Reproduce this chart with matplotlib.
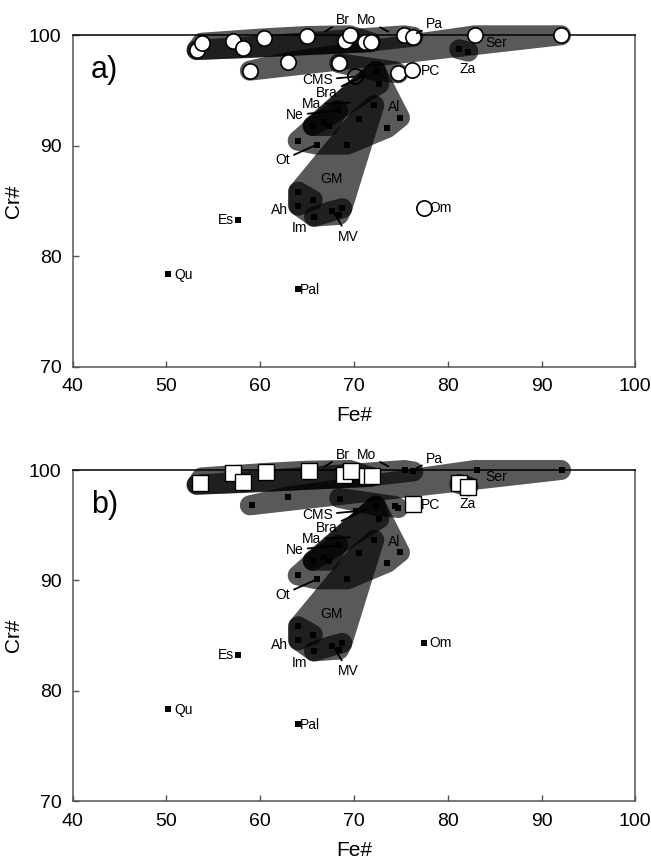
import matplotlib

matplotlib.use("Agg")
import matplotlib.pyplot as plt
import numpy as np
from matplotlib.patches import Polygon

plt.rcParams["font.family"] = ["Liberation Sans", "DejaVu Sans"]

# ---- data (Fe#, Cr#) ----
# panel a: open circles
circ_a_x = [53.22, 53.76, 57.13, 58.13, 60.43, 65.02, 69.04, 69.57, 71.17, 71.81, 75.36, 76.32,
            82.9, 92.07, 58.9, 63.0, 68.43, 74.72, 76.15, 77.46]
circ_a_y = [98.67, 99.33, 99.51, 98.82, 99.73, 99.94, 99.51, 100.0, 99.37, 99.37, 100.0, 99.87,
            100.0, 100.0, 96.8, 97.6, 97.47, 96.56, 96.86, 84.37]
cms_a = (70.1, 96.3)

# black squares shared by both panels
core_x = [68.29, 65.6, 66.83, 67.33, 72.16, 70.5, 74.9, 73.55, 64.0, 66.02, 69.28,
          64.06, 65.6, 64.06, 65.73, 67.62, 68.75, 68.4, 57.63, 50.2, 64.0, 72.35, 72.7]
core_y = [93.24, 91.79, 92.13, 91.79, 93.67, 92.45, 92.54, 91.61, 90.46, 90.1, 90.1,
          85.85, 85.1, 84.58, 83.58, 84.1, 84.34, 83.74, 83.28, 78.37, 77.0, 96.77, 95.59]
black_a_x = [81.23, 82.19]
black_a_y = [98.73, 98.52]

# panel b: open squares
sq_b_x = [53.6, 57.13, 58.13, 60.58, 65.2, 68.97, 69.65, 71.35, 71.95, 81.23, 82.19, 76.26]
sq_b_y = [98.85, 99.7, 98.89, 99.79, 99.94, 99.58, 99.94, 99.46, 99.46, 98.8, 98.49, 96.92]
black_b_x = [75.44, 76.26, 83.08, 92.15, 59.09, 62.99, 68.5, 70.2, 74.37, 74.72, 77.46]
black_b_y = [100.0, 99.94, 100.0, 100.0, 96.86, 97.58, 97.4, 96.31, 96.74, 96.59, 84.37]

# fields (member points of each shaded field)
fields = {
    "Br": [(53.22, 98.67), (53.76, 99.33), (57.13, 99.51), (60.43, 99.73), (65.02, 99.94),
           (69.57, 100.0), (71.81, 99.37)],
    "Mo": [(53.22, 98.67), (58.13, 98.82), (69.04, 99.51), (71.17, 99.37), (75.36, 100.0),
           (76.32, 99.87)],
    "Ser": [(58.9, 96.8), (63.0, 97.6), (82.9, 100.0), (92.07, 100.0)],
    "Za": [(81.23, 98.73), (82.19, 98.52)],
    "Bra": [(68.43, 97.47), (72.35, 96.77), (74.37, 96.74), (74.72, 96.56)],
    "Ot": [(64.0, 90.46), (66.02, 90.1), (69.28, 90.1), (73.55, 91.61), (74.9, 92.54),
           (72.7, 95.59), (72.35, 96.77)],
    "Ma": [(65.6, 91.79), (68.29, 93.24), (72.35, 96.77), (72.7, 95.59)],
    "Ne": [(65.6, 91.79), (66.83, 92.13), (67.33, 91.79), (68.29, 93.24)],
    "GM": [(64.06, 85.85), (64.06, 84.58), (65.73, 83.58), (68.75, 84.34), (72.16, 93.67),
           (70.5, 92.45)],
    "Ah": [(64.06, 85.85), (65.6, 85.1), (64.06, 84.58)],
    "MV": [(65.73, 83.58), (67.62, 84.1), (68.75, 84.34), (68.4, 83.74)],
}

# labels: text, text position, leader end (or None)
labels = [
    ("Br", (68.83, 101.37), (66.9, 100.33)),
    ("Mo", (71.33, 101.38), (73.66, 100.33)),
    ("Pa", (78.58, 100.98), (76.68, 100.18)),
    ("Ser", (85.21, 99.33), None),
    ("Za", (82.12, 96.92), None),
    ("PC", (78.14, 96.81), None),
    ("CMS", (66.09, 95.95), (70.0, 96.25)),
    ("Bra", (67.09, 94.75), (71.3, 96.45)),
    ("Ma", (65.45, 93.76), (69.57, 93.9)),
    ("Ne", (63.67, 92.79), (68.15, 93.15)),
    ("Al", (74.27, 93.48), None),
    ("Ot", (62.39, 88.72), (65.95, 90.07)),
    ("GM", (67.62, 87.0), None),
    ("Ah", (62.0, 84.2), None),
    ("Im", (64.24, 82.53), None),
    ("MV", (69.39, 81.77), (67.8, 84.04)),
    ("Es", (56.31, 83.28), None),
    ("Om", (79.28, 84.37), None),
    ("Qu", (51.8, 78.3), None),
    ("Pal", (65.27, 76.95), None),
]

W, H = 651, 860
AX_L, AX_R = 72.7, 635.3
AX_TOPS = [35.3, 470.0]
AX_H = 331.4
XLIM, YLIM = (40, 100), (70, 100)
SX = (AX_R - AX_L) / (XLIM[1] - XLIM[0])
SY = AX_H / (YLIM[1] - YLIM[0])
RAD = 10.0  # px


def hull(pts):
    pts = sorted(set(pts))
    if len(pts) < 3:
        return pts

    def cross(o, a, b):
        return (a[0] - o[0]) * (b[1] - o[1]) - (a[1] - o[1]) * (b[0] - o[0])

    lower, upper = [], []
    for p in pts:
        while len(lower) >= 2 and cross(lower[-2], lower[-1], p) <= 0:
            lower.pop()
        lower.append(p)
    for p in reversed(pts):
        while len(upper) >= 2 and cross(upper[-2], upper[-1], p) <= 0:
            upper.pop()
        upper.append(p)
    return lower[:-1] + upper[:-1]


def field_polygon(members):
    t = np.linspace(0, 2 * np.pi, 60, endpoint=False)
    pts = []
    for x, y in members:
        for a in t:
            pts.append((x * SX + RAD * np.cos(a), y * SY + RAD * np.sin(a)))
    h = np.array(hull(pts))
    return np.column_stack([h[:, 0] / SX, h[:, 1] / SY])


fig = plt.figure(figsize=(W / 100, H / 100), dpi=100)

for i, top in enumerate(AX_TOPS):
    ax = fig.add_axes([AX_L / W, 1 - (top + AX_H) / H, (AX_R - AX_L) / W, AX_H / H])
    ax.set_xlim(*XLIM)
    ax.set_ylim(*YLIM)
    ax.set_xticks(range(40, 101, 10))
    ax.set_yticks(range(70, 101, 10))
    ax.tick_params(direction="in", length=4, width=1, labelsize=14, pad=8,
                   top=False, right=False, color="#555555")
    for s in ax.spines.values():
        s.set_color("#555555")
        s.set_linewidth(1.1)
    ax.spines["top"].set_color("black")
    ax.set_xlabel("Fe#", fontsize=15)
    ax.set_ylabel("Cr#", fontsize=15)
    ax.xaxis.set_label_coords(0.5, -0.118)
    ax.yaxis.set_label_coords(-0.088, 0.5)

    for name, members in fields.items():
        ax.add_patch(Polygon(field_polygon(members), closed=True, facecolor="black",
                             edgecolor="none", alpha=0.65, zorder=2, clip_on=False))

    kx = core_x + (black_a_x if i == 0 else black_b_x)
    ky = core_y + (black_a_y if i == 0 else black_b_y)
    ax.plot(kx, ky, "s", color="black", ms=4.5, mew=0, zorder=3, clip_on=False)

    if i == 0:
        ax.plot([cms_a[0]], [cms_a[1]], "o", mfc="white", mec="black", ms=11, mew=1.2,
                zorder=1, clip_on=False)
        ax.plot(circ_a_x, circ_a_y, "o", mfc="white", mec="black", ms=11, mew=1.2,
                zorder=4, clip_on=False)
    else:
        ax.plot(sq_b_x, sq_b_y, "s", mfc="white", mec="black", ms=11, mew=1.0,
                zorder=4, clip_on=False)

    for txt, pos, end in labels:
        if end is None:
            ax.text(pos[0], pos[1], txt, ha="center", va="center", fontsize=10, zorder=6)
        else:
            ax.annotate(txt, xy=end, xytext=pos, ha="center", va="center", fontsize=10,
                        zorder=6, annotation_clip=False,
                        arrowprops=dict(arrowstyle="-", color="black", lw=1.3,
                                        shrinkA=1, shrinkB=0))

    ax.text(0.057, 0.895, "a)" if i == 0 else "b)", transform=ax.transAxes,
            fontsize=22, ha="center", va="center")

fig.savefig("out.png", dpi=100)
